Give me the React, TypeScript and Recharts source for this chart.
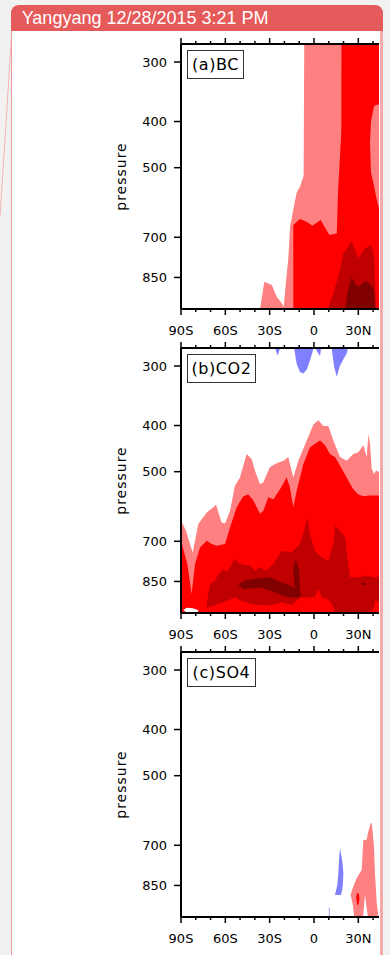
import { ComposedChart, Area, XAxis, YAxis } from 'recharts';

// each point: [latitude, lower edge (hPa), upper edge (hPa)]
type Pt = [number, number, number];

const latTicks = [-90, -80, -70, -60, -50, -40, -30, -20, -10, 0, 10, 20, 30, 40];
const pressureTicks = [300, 400, 500, 700, 850];
const panelTitles = ['(a)BC', '(b)CO2', '(c)SO4'];

const PINK = '#ff8080';
const RED = '#ff0000';
const DARK = '#c00000';
const DARKEST = '#800000';
const BLUE = '#8080ff';
const WHITE = '#ffffff';

// (a) BC
const bcPink: Pt[] = [
  [-36.5, 990, 990], [-33.6, 990, 868], [-28.6, 990, 882], [-25.2, 990, 933], [-21.8, 990, 963],
  [-20.5, 990, 980], [-18.8, 990, 860], [-17.3, 990, 769], [-16.2, 990, 665], [-14.4, 990, 622],
  [-11.8, 990, 565], [-9.5, 990, 548], [-7, 990, 520], [-6.6, 990, 275], [44, 990, 275],
];
const bcRed: Pt[] = [
  [-14, 990, 660], [-9.5, 990, 641], [-5, 990, 649], [-1, 990, 662], [4.5, 990, 644],
  [10.4, 990, 692], [15.4, 990, 687], [16.3, 990, 560], [18.5, 990, 420], [18.6, 990, 275], [44, 990, 275],
];
const bcPinkEdge: Pt[] = [
  [37.9, 444, 444], [38.6, 513, 400], [40.6, 545, 372], [42, 575, 369], [44, 609, 369],
];
const bcDark: Pt[] = [
  [9.3, 990, 990], [13.1, 990, 918], [17.6, 990, 820], [19.9, 990, 757], [25.5, 990, 713],
  [30, 990, 775], [34.5, 990, 738], [39, 990, 727], [40.6, 990, 769], [41.5, 990, 900], [42, 990, 990],
];
const bcDarkest: Pt[] = [
  [21, 990, 990], [23, 990, 900], [25.5, 990, 849], [28, 990, 875], [30, 990, 889],
  [33, 990, 872], [35.7, 990, 866], [38.5, 990, 880], [40.5, 990, 900], [41.5, 990, 990],
];

// (b) CO2
const co2Pink: Pt[] = [
  [-90, 990, 633], [-86.6, 990, 665], [-83.9, 990, 709], [-82.1, 990, 739], [-80.5, 990, 698],
  [-78.3, 990, 644], [-72.6, 990, 609], [-68.1, 990, 594], [-66.3, 990, 586], [-64.7, 990, 609],
  [-62.5, 990, 639], [-60.2, 990, 642], [-56.8, 990, 604], [-53.5, 990, 535], [-50.1, 990, 514],
  [-45.6, 990, 459], [-42.2, 990, 470], [-40, 990, 497], [-36.5, 990, 531], [-34.3, 990, 526],
  [-29.8, 990, 489], [-25.3, 990, 480], [-20.7, 990, 474], [-17.4, 990, 466], [-14, 990, 514],
  [-10.6, 990, 474], [-4.9, 990, 430], [-0.4, 990, 398], [3, 990, 390], [6.3, 990, 401],
  [9.7, 990, 401], [13.1, 990, 430], [17.6, 990, 466], [22.1, 990, 474], [26.6, 990, 459],
  [30, 990, 455], [33.4, 990, 440], [35.7, 990, 466], [36.8, 990, 417], [37.9, 990, 437],
  [39.1, 990, 493], [40.6, 990, 506], [42, 990, 497], [44, 990, 501],
];
const co2Red: Pt[] = [
  [-90, 990, 698], [-85.7, 990, 781], [-82.8, 990, 903], [-80.5, 990, 781], [-77.1, 990, 721],
  [-72.6, 990, 698], [-69.2, 990, 709], [-65.9, 990, 715], [-60.2, 990, 709], [-56.8, 990, 654],
  [-52.3, 990, 594], [-47.8, 990, 563], [-44.4, 990, 558], [-41, 990, 575], [-36.5, 990, 613],
  [-34.3, 990, 604], [-30.9, 990, 566], [-27.5, 990, 571], [-23, 990, 544], [-18.5, 990, 514],
  [-16.3, 990, 539], [-14, 990, 594], [-11.7, 990, 548], [-7.2, 990, 482], [-2.7, 990, 445],
  [0.7, 990, 437], [4.1, 990, 430], [7.5, 990, 440], [10.8, 990, 459], [14.2, 990, 466],
  [17.6, 990, 485], [22.1, 990, 514], [26.6, 990, 544], [30, 990, 558], [33.4, 990, 563],
  [37.9, 990, 561], [44, 990, 561],
];
const co2Dark: Pt[] = [
  [-72.6, 965, 950], [-70.4, 960, 861], [-67, 955, 847], [-64.7, 948, 820], [-61.3, 940, 800],
  [-59.1, 933, 813], [-53.5, 918, 763], [-50.1, 930, 781], [-43.3, 948, 788], [-40, 950, 807],
  [-36.5, 952, 794], [-32, 955, 807], [-27.5, 950, 781], [-21.9, 940, 733], [-15.1, 952, 739],
  [-9.5, 918, 709], [-6.8, 918, 665], [-4.5, 918, 623], [-2.7, 918, 676], [0.7, 915, 733],
  [3, 878, 745], [5.2, 918, 757], [9.7, 928, 769], [13.1, 960, 709], [14.2, 990, 649],
  [16.5, 990, 660], [21, 990, 687], [23.2, 990, 781], [24.4, 990, 833], [30, 990, 833],
  [35.7, 990, 827], [40.2, 975, 833], [41.5, 930, 832], [44, 940, 830],
];
const co2Darkest: Pt[] = [
  [-51.2, 864, 864], [-48, 880, 850], [-45.6, 882, 844], [-40, 878, 838], [-36.5, 875, 837],
  [-29.8, 889, 833], [-25.3, 900, 847], [-18.5, 915, 861], [-15, 918, 870], [-12, 918, 880],
  [-9.5, 918, 882], [-9, 905, 900],
];
const co2DarkestCol: Pt[] = [
  [-14.2, 800, 800], [-13, 880, 770], [-11.5, 890, 775], [-10, 885, 810], [-9.5, 880, 880],
];
const co2DarkestSpot: Pt[] = [
  [31.5, 860, 860], [33, 866, 855], [35, 864, 857], [36, 860, 860],
];
const co2Ground: Pt[] = [
  [-88.5, 975, 975], [-86, 990, 965], [-82, 990, 968], [-79, 985, 975], [-78, 980, 980],
];
const co2Blue1: Pt[] = [[-26.4, 275, 275], [-24.5, 275, 285], [-23, 275, 275]];
const co2Blue2: Pt[] = [
  [-13.5, 275, 275], [-11.7, 275, 297], [-9.5, 275, 309], [-7.2, 275, 311], [-4.9, 275, 305],
  [-2.7, 275, 292], [-0.2, 275, 275],
];
const co2Blue3: Pt[] = [[0.9, 275, 275], [2.5, 275, 281], [4.1, 275, 286], [4.8, 275, 275]];
const co2Blue4: Pt[] = [
  [12, 275, 275], [13.5, 275, 300], [15.4, 275, 316], [17.5, 275, 300], [20, 275, 290],
  [22, 275, 283], [23.2, 275, 275],
];

// (c) SO4
const so4Pink: Pt[] = [
  [24.8, 890, 890], [26.2, 930, 862], [27.2, 986, 845], [28.9, 986, 821], [32.3, 986, 788],
  [33.2, 986, 700], [33.4, 975, 683], [34.5, 890, 682], [35.7, 950, 681], [36.5, 986, 660],
  [38.4, 986, 630], [39.1, 986, 628], [40.6, 986, 704], [41.3, 986, 802], [42.5, 986, 928],
  [43.6, 986, 986],
];
const so4Red: Pt[] = [[28.5, 900, 900], [29.3, 935, 880], [30.3, 930, 885], [30.8, 905, 905]];
const so4Blue: Pt[] = [
  [14.2, 890, 890], [15.8, 890, 848], [16.5, 890, 802], [17.1, 890, 740], [17.6, 890, 710],
  [18.1, 890, 725], [18.7, 880, 740], [19.4, 856, 770], [19.9, 805, 800],
];
const so4BlueThin: Pt[] = [[10.1, 986, 945], [10.6, 986, 945]];

type Layer = { data: Pt[]; fill: string };

const panels: { top: number; title: string; titleWidth: number; layers: Layer[] }[] = [
  {
    top: 44,
    title: panelTitles[0],
    titleWidth: 57,
    layers: [
      { data: bcPink, fill: PINK },
      { data: bcRed, fill: RED },
      { data: bcPinkEdge, fill: PINK },
      { data: bcDark, fill: DARK },
      { data: bcDarkest, fill: DARKEST },
    ],
  },
  {
    top: 348,
    title: panelTitles[1],
    titleWidth: 69,
    layers: [
      { data: co2Pink, fill: PINK },
      { data: co2Red, fill: RED },
      { data: co2Dark, fill: DARK },
      { data: co2Darkest, fill: DARKEST },
      { data: co2DarkestCol, fill: DARKEST },
      { data: co2DarkestSpot, fill: DARKEST },
      { data: co2Ground, fill: WHITE },
      { data: co2Blue1, fill: BLUE },
      { data: co2Blue2, fill: BLUE },
      { data: co2Blue3, fill: BLUE },
      { data: co2Blue4, fill: BLUE },
    ],
  },
  {
    top: 652,
    title: panelTitles[2],
    titleWidth: 69,
    layers: [
      { data: so4Pink, fill: PINK },
      { data: so4Red, fill: RED },
      { data: so4Blue, fill: BLUE },
      { data: so4BlueThin, fill: BLUE },
    ],
  },
];

const FONT = '"DejaVu Sans", sans-serif';

const latLabel = (v: number) => (v < 0 ? `${-v}S` : v > 0 ? `${v}N` : '0');

const toPts = (arr: Pt[]) => arr.map(([lat, lo, hi]) => ({ lat, range: [lo, hi] }));

function BottomTick(props: any) {
  const { x, y, payload } = props;
  const v = payload.value;
  const major = v % 30 === 0;
  return (
    <g>
      <line x1={x} x2={x} y1={y} y2={y + (major ? 6 : 3)} stroke="#000" strokeWidth={1.5} />
      {major && (
        <text x={x} y={y + 26} textAnchor="middle" fontSize={13} fontFamily={FONT} fill="#000">
          {latLabel(v)}
        </text>
      )}
    </g>
  );
}

function TopTick(props: any) {
  const { x, y, payload } = props;
  const major = payload.value % 30 === 0;
  return <line x1={x} x2={x} y1={y} y2={y - (major ? 6 : 3)} stroke="#000" strokeWidth={1.5} />;
}

function PressureLabel(props: any) {
  const { viewBox } = props;
  const cx = viewBox.x + 25.5;
  const cy = viewBox.y + viewBox.height / 2;
  return (
    <text
      x={cx}
      y={cy}
      transform={`rotate(-90 ${cx} ${cy})`}
      textAnchor="middle"
      fontSize={14}
      letterSpacing={1}
      fontFamily={FONT}
      fill="#000"
    >
      pressure
    </text>
  );
}

function Panel({ top, title, titleWidth, layers }: { top: number; title: string; titleWidth: number; layers: Layer[] }) {
  return (
    <div style={{ position: 'absolute', left: 100, top: top - 14, width: 279, height: 314 }}>
      <ComposedChart width={279} height={314} margin={{ top: 13, right: 0, bottom: 34, left: 0 }}>
        <XAxis
          xAxisId="top"
          orientation="top"
          type="number"
          dataKey="lat"
          domain={[-90, 44]}
          allowDataOverflow
          ticks={latTicks}
          interval={0}
          height={1}
          tickSize={0}
          tickMargin={0}
          tickLine={false}
          tick={TopTick}
          axisLine={{ stroke: '#000', strokeWidth: 2 }}
        />
        <XAxis
          orientation="bottom"
          type="number"
          dataKey="lat"
          domain={[-90, 44]}
          allowDataOverflow
          ticks={latTicks}
          interval={0}
          height={1}
          tickSize={0}
          tickMargin={0}
          tickLine={false}
          tick={BottomTick}
          axisLine={{ stroke: '#000', strokeWidth: 2 }}
        />
        <YAxis
          type="number"
          scale="log"
          domain={[275, 990]}
          reversed
          allowDataOverflow
          ticks={pressureTicks}
          interval={0}
          width={81}
          tickSize={7}
          tickMargin={7}
          tick={{ fontSize: 13, fontFamily: FONT, fill: '#000' }}
          tickLine={{ stroke: '#000', strokeWidth: 1.5 }}
          axisLine={{ stroke: '#000', strokeWidth: 2 }}
          label={{ content: PressureLabel }}
        />
        {layers.map((layer, i) => (
          <Area
            key={i}
            data={toPts(layer.data)}
            dataKey="range"
            type="linear"
            fill={layer.fill}
            fillOpacity={1}
            stroke="none"
            dot={false}
            activeDot={false}
            isAnimationActive={false}
          />
        ))}
      </ComposedChart>
      <div
        style={{
          position: 'absolute',
          left: 87,
          top: 20,
          width: titleWidth,
          height: 29,
          boxSizing: 'border-box',
          border: '1px solid #333',
          background: '#fff',
          fontFamily: FONT,
          fontSize: 16,
          letterSpacing: 0.6,
          lineHeight: '27px',
          textAlign: 'center',
          color: '#000',
        }}
      >
        {title}
      </div>
    </div>
  );
}

export default function App() {
  return (
    <div style={{ position: 'absolute', left: 0, top: 0, width: 390, height: 955, overflow: 'hidden', background: '#f1f1f1' }}>
      <svg width={390} height={955} style={{ position: 'absolute', left: 0, top: 0 }}>
        <line x1={12} y1={28} x2={0} y2={217} stroke="#f0b4b4" strokeWidth={1} />
      </svg>
      <div
        style={{
          position: 'absolute',
          left: 11,
          top: 31,
          width: 372,
          height: 940,
          boxSizing: 'border-box',
          background: '#fff',
          borderLeft: '1.5px solid #ee9a9a',
          borderRight: '3px solid #f3aaaa',
        }}
      />
      <div
        style={{
          position: 'absolute',
          left: 11,
          top: 5,
          width: 372,
          height: 26,
          boxSizing: 'border-box',
          background: '#e55a5a',
          borderRadius: '8px 8px 0 0',
          color: '#fff',
          fontFamily: '"Liberation Sans", Arial, sans-serif',
          fontSize: 18,
          lineHeight: '26px',
          paddingLeft: 10.7,
          whiteSpace: 'nowrap',
        }}
      >
        Yangyang 12/28/2015 3:21 PM
      </div>
      {panels.map((p) => (
        <Panel key={p.title} top={p.top} title={p.title} titleWidth={p.titleWidth} layers={p.layers} />
      ))}
    </div>
  );
}
